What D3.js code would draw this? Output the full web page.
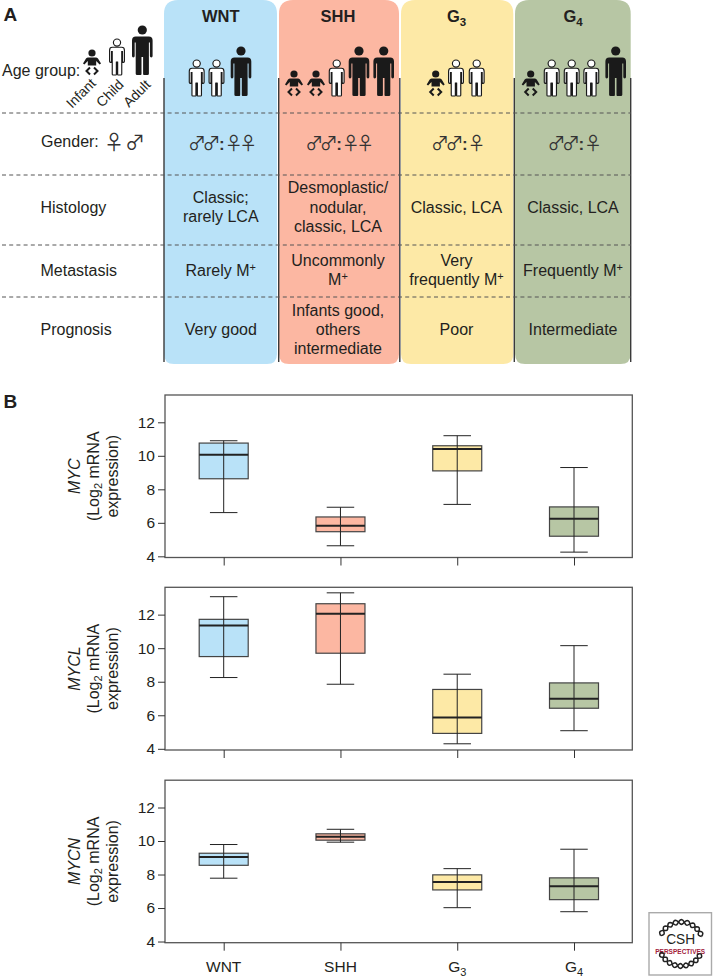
<!DOCTYPE html>
<html><head><meta charset="utf-8">
<script src="https://cdn.jsdelivr.net/npm/d3@7"></script>
<style>html,body{margin:0;background:#fff}svg{display:block}text{font-family:"Liberation Sans",Arial,sans-serif;fill:#231f20}</style>
</head><body><svg id="c" width="716" height="980"></svg>
<script>
const groups=["WNT","SHH","G3","G4"];
const groupColors=["#b9e2f8","#fcb7a2","#fde9a6","#b7c6a4"];
const ageRows=[["child","child","adult"],["infant","infant","child","adult","adult"],["infant","child","child"],["infant","child","child","child","adult"]];
const ageX=[[196.7,216.5,241],[294,316,336.7,359,383.7],[435.7,456,476.7],[530.7,551.7,571.7,591.3,615.7]];
const genderRows=["♂♂:♀♀","♂♂:♀♀","♂♂:♀","♂♂:♀"];
const histology=[["Classic;","rarely LCA"],["Desmoplastic/","nodular,","classic, LCA"],["Classic, LCA"],["Classic, LCA"]];
const metastasis=[["Rarely M⁺"],["Uncommonly","M⁺"],["Very","frequently M⁺"],["Frequently M⁺"]];
const prognosis=[["Very good"],["Infants good,","others","intermediate"],["Poor"],["Intermediate"]];
const rowLabels=["Histology","Metastasis","Prognosis"];
const genes=["MYC","MYCL","MYCN"];
const whiskerLow=[[6.61,4.63,7.1,4.25],[8.25,7.85,4.3,5.08],[7.78,9.93,6.02,5.78]];
const q1=[[8.63,5.47,9.1,5.2],[9.5,9.7,4.92,6.42],[8.55,10.05,7.08,6.5]];
const median=[[10.06,5.83,10.4,6.25],[11.35,12.06,5.87,6.98],[9.05,10.25,7.56,7.3]];
const q3=[[10.76,6.35,10.6,6.95],[11.72,12.65,7.54,7.93],[9.27,10.43,7.98,7.8]];
const whiskerHigh=[[10.9,6.93,11.2,9.3],[13.07,13.3,8.45,10.15],[9.79,10.7,8.35,9.51]];
const yTicks=[4,6,8,10,12];

const svg=d3.select("#c");
const ink="#231f20";
// panel A
const colX=d3.scaleOrdinal().domain(groups).range([[164,277],[279,399],[401,513.3],[515,630.7]]);
groups.forEach((g,i)=>{
  const [a,b]=colX(g);
  const r=14,rb=10,top=0,bot=364;
  svg.append("path").attr("fill",groupColors[i]).attr("d",`M${a},${top+r}Q${a},${top} ${a+r},${top}H${b-r}Q${b},${top} ${b},${top+r}V${bot-rb}Q${b},${bot} ${b-rb},${bot}H${a+rb}Q${a},${bot} ${a},${bot-rb}Z`);
});
[164,278.7,399.8,514.3,630.7].forEach(x=>svg.append("line").attr("x1",x).attr("x2",x).attr("y1",78).attr("y2",362).attr("stroke","#3a3a3a").attr("stroke-width",1.4));
[113,175,245,297].forEach(y=>svg.append("line").attr("x1",2).attr("x2",631).attr("y1",y).attr("y2",y).attr("stroke","#555").attr("stroke-width",1).attr("stroke-dasharray","4 3.2"));
const txt=(x,y,s,size=16,anchor="middle",extra={})=>{const t=svg.append("text").attr("x",x).attr("y",y).attr("font-size",size).attr("text-anchor",anchor).text(s);Object.entries(extra).forEach(([k,v])=>t.attr(k,v));return t;};
txt(3.5,20.7,"A",19,"start",{"font-weight":"bold"});
txt(3.5,408,"B",19,"start",{"font-weight":"bold"});
const centers=[220.8,338,456.5,573];
groups.forEach((g,i)=>{
  if(g[0]==="G"){const t=txt(centers[i],21.7,"",16.5,"middle",{"font-weight":"bold"});t.append("tspan").text("G");t.append("tspan").attr("font-size",11.5).attr("dy",4).text(g[1]);}
  else txt(centers[i],21.7,g,16.5,"middle",{"font-weight":"bold"});
});
// pictograms
function person(x,foot,kind){
  const g=svg.append("g").attr("transform",`translate(${x},${foot})`);
  const k="#1a1a1a";
  if(kind==="infant"){
    g.append("circle").attr("cy",-22).attr("r",3.6).attr("fill",k);
    g.append("path").attr("d","M-4,-17.5H4Q5,-17.5 6,-16.5L9,-11.5L7.6,-10.6L4.2,-14V-9.5H-4.2V-14L-7.6,-10.6L-9,-11.5L-6,-16.5Q-5,-17.5 -4,-17.5Z").attr("fill",k);
    g.append("path").attr("d","M-2,-7.5L-5.5,-4L-2,-0.5M2,-7.5L5.5,-4L2,-0.5").attr("fill","none").attr("stroke",k).attr("stroke-width",2);
    return;
  }
  const adult=kind==="adult";
  const s=adult?1:0.72, f=adult?k:"#fff";
  const h=g.append("g").attr("transform",`scale(${s})`);
  h.append("circle").attr("cy",-45).attr("r",adult?4.6:5).attr("fill",f).attr("stroke",k).attr("stroke-width",adult?0:1.6);
  h.append("path").attr("d","M-6.5,-38.5H6.5Q10.3,-38.5 10.3,-34.5V-19Q10.3,-17.6 9,-17.6Q7.6,-17.6 7.6,-19V-32.5H6.6V-1.2Q6.6,0 5.2,0H1.6Q0.8,0 0.8,-1.2V-18H-0.8V-1.2Q-0.8,0 -1.6,0H-5.2Q-6.6,0 -6.6,-1.2V-32.5H-7.6V-19Q-7.6,-17.6 -9,-17.6Q-10.3,-17.6 -10.3,-19V-34.5Q-10.3,-38.5 -6.5,-38.5Z").attr("fill",f).attr("stroke",k).attr("stroke-width",adult?0:1.6);
  if(!adult)h.append("line").attr("y1",-18).attr("y2",-1).attr("stroke",k).attr("stroke-width",3);
}
ageRows.forEach((row,i)=>row.forEach((k,j)=>person(ageX[i][j],96,k)));
person(92,75,"infant");person(117,75,"child");person(142.3,75,"adult");
txt(2,76,"Age group:",16,"start");
[["Infant",72,109],["Child",102,108],["Adult",129,108]].forEach(([s,x,y])=>txt(x,y,s,14,"start",{transform:`rotate(-45 ${x} ${y})`}));
txt(41,147,"Gender:",16,"start");
const sym={style:"font-family:'Noto Sans CJK JP';fill:#333"};
txt(114,150,"♀",20,"middle",sym);
txt(135,150,"♂",20,"middle",sym);
genderRows.forEach((s,i)=>{
  const t=txt(centers[i],150,"",18,"middle",{style:"font-family:'Noto Sans CJK JP';fill:#333"});
  s.split("").forEach(c=>{
    if(c===":")t.append("tspan").attr("font-size",17).attr("font-weight","bold").attr("dx",2).style("font-family","'Liberation Sans'").text(c);
    else t.append("tspan").attr("letter-spacing",-3.5).attr("dx",c==="♀"&&false?1:0).text(c);
  });
});
const rowLabelY=[212.7,275.7,335];
rowLabels.forEach((s,i)=>txt(40.5,rowLabelY[i],s,16,"start"));
const multi=(rows,ys)=>rows.forEach((lines,i)=>{
  const y0=ys-(lines.length-1)*9.7;
  lines.forEach((l,j)=>{
    const base=l.replace("⁺","");
    const t=txt(centers[i],y0+j*19.4,"",16);
    t.append("tspan").text(base);
    if(l.includes("⁺"))t.append("tspan").attr("font-size",11).attr("dy",-5).text("+");
  });
});
multi(histology,212.7);multi(metastasis,275.7);multi(prognosis,335);
// panel B
const panels=[{top:395,bottom:557.5},{top:587.3,bottom:750},{top:780.2,bottom:942.7}];
const xCenter=d3.scalePoint().domain(groups).range([223.7,574]);
const boxW=49,capW=27.5;
panels.forEach((p,k)=>{
  const y=d3.scaleLinear().domain([3.93,13.63]).range([p.bottom,p.top]);
  const g=svg.append("g");
  g.append("rect").attr("x",165).attr("y",p.top).attr("width",467.3).attr("height",p.bottom-p.top).attr("fill","#fff").attr("stroke","#555").attr("stroke-width",1.3);
  const ax=g.append("g").attr("transform","translate(165,0)").call(d3.axisLeft(y).tickValues(yTicks).tickSize(7).tickPadding(3).tickFormat(d3.format("d")));
  ax.select(".domain").remove();
  ax.selectAll("line").attr("stroke","#333");
  ax.selectAll("text").attr("font-size",15.5).style("font-family",'"Liberation Sans"').style("fill",ink);
  const ax2=g.append("g").attr("transform",`translate(0,${p.bottom})`).call(d3.axisBottom(xCenter).tickSize(8).tickFormat(""));
  ax2.select(".domain").remove();ax2.selectAll("line").attr("stroke","#333");
  groups.forEach((name,i)=>{
    const x=xCenter(name);
    g.append("rect").attr("x",x-boxW/2).attr("width",boxW).attr("y",y(q3[k][i])).attr("height",y(q1[k][i])-y(q3[k][i])).attr("fill",groupColors[i]).attr("stroke","#444").attr("stroke-width",1.2);
    g.append("line").attr("x1",x).attr("x2",x).attr("y1",y(whiskerLow[k][i])).attr("y2",y(whiskerHigh[k][i])).attr("stroke","#222").attr("stroke-width",1);
    [whiskerLow,whiskerHigh].forEach(w=>g.append("line").attr("x1",x-capW/2).attr("x2",x+capW/2).attr("y1",y(w[k][i])).attr("y2",y(w[k][i])).attr("stroke","#222").attr("stroke-width",1));
    g.append("line").attr("x1",x-boxW/2).attr("x2",x+boxW/2).attr("y1",y(median[k][i])).attr("y2",y(median[k][i])).attr("stroke","#222").attr("stroke-width",2);
  });
  const cy=(p.top+p.bottom)/2;
  const lab=svg.append("g").attr("transform",`translate(0,${cy})`);
  const vt=(x,build)=>{const t=lab.append("text").attr("transform",`translate(${x},0) rotate(-90)`).attr("text-anchor","middle").attr("font-size",16);build(t);};
  vt(80,t=>t.attr("font-style","italic").text(genes[k]));
  vt(99,t=>{t.append("tspan").text("(Log");t.append("tspan").attr("font-size",11).attr("dy",3).text("2");t.append("tspan").attr("dy",-3).text(" mRNA");});
  vt(118,t=>t.text("expression)"));
});
groups.forEach(g=>{
  const x=xCenter(g);
  if(g[0]==="G"){const t=txt(x,971.7,"",15.5);t.append("tspan").text("G");t.append("tspan").attr("font-size",11).attr("dy",4).text(g[1]);}
  else txt(x,971.7,g,15.5);
});
// logo
svg.append("rect").attr("x",649).attr("y",912.7).attr("width",62.5).attr("height",62.3).attr("fill","#fff").attr("stroke","#aaa").attr("stroke-width",1.4);
txt(680.7,943.5,"CSH",15,"middle",{textLength:29,lengthAdjust:"spacingAndGlyphs"});
txt(680.2,954,"PERSPECTIVES",7.5,"middle",{style:"fill:#a3203a","font-weight":"bold",textLength:50,lengthAdjust:"spacingAndGlyphs"});
const helix=(a0,a1,sign)=>{
  const ts=d3.range(0,1.001,0.02);
  const line=d3.line().x(t=>{const a=a0+(a1-a0)*t,r=22+sign*2.4*Math.sin(t*Math.PI*9);return 681+r*Math.cos(a);}).y(t=>{const a=a0+(a1-a0)*t,r=22+sign*2.4*Math.sin(t*Math.PI*9);return 944-r*Math.sin(a);});
  return line(ts);
};
[[2.75,0.35],[-2.75,-0.45]].forEach(([a,b])=>[1,-1].forEach(s=>svg.append("path").attr("d",helix(a,b,s)).attr("fill","none").attr("stroke","#222").attr("stroke-width",1.5)));
</script></body></html>
